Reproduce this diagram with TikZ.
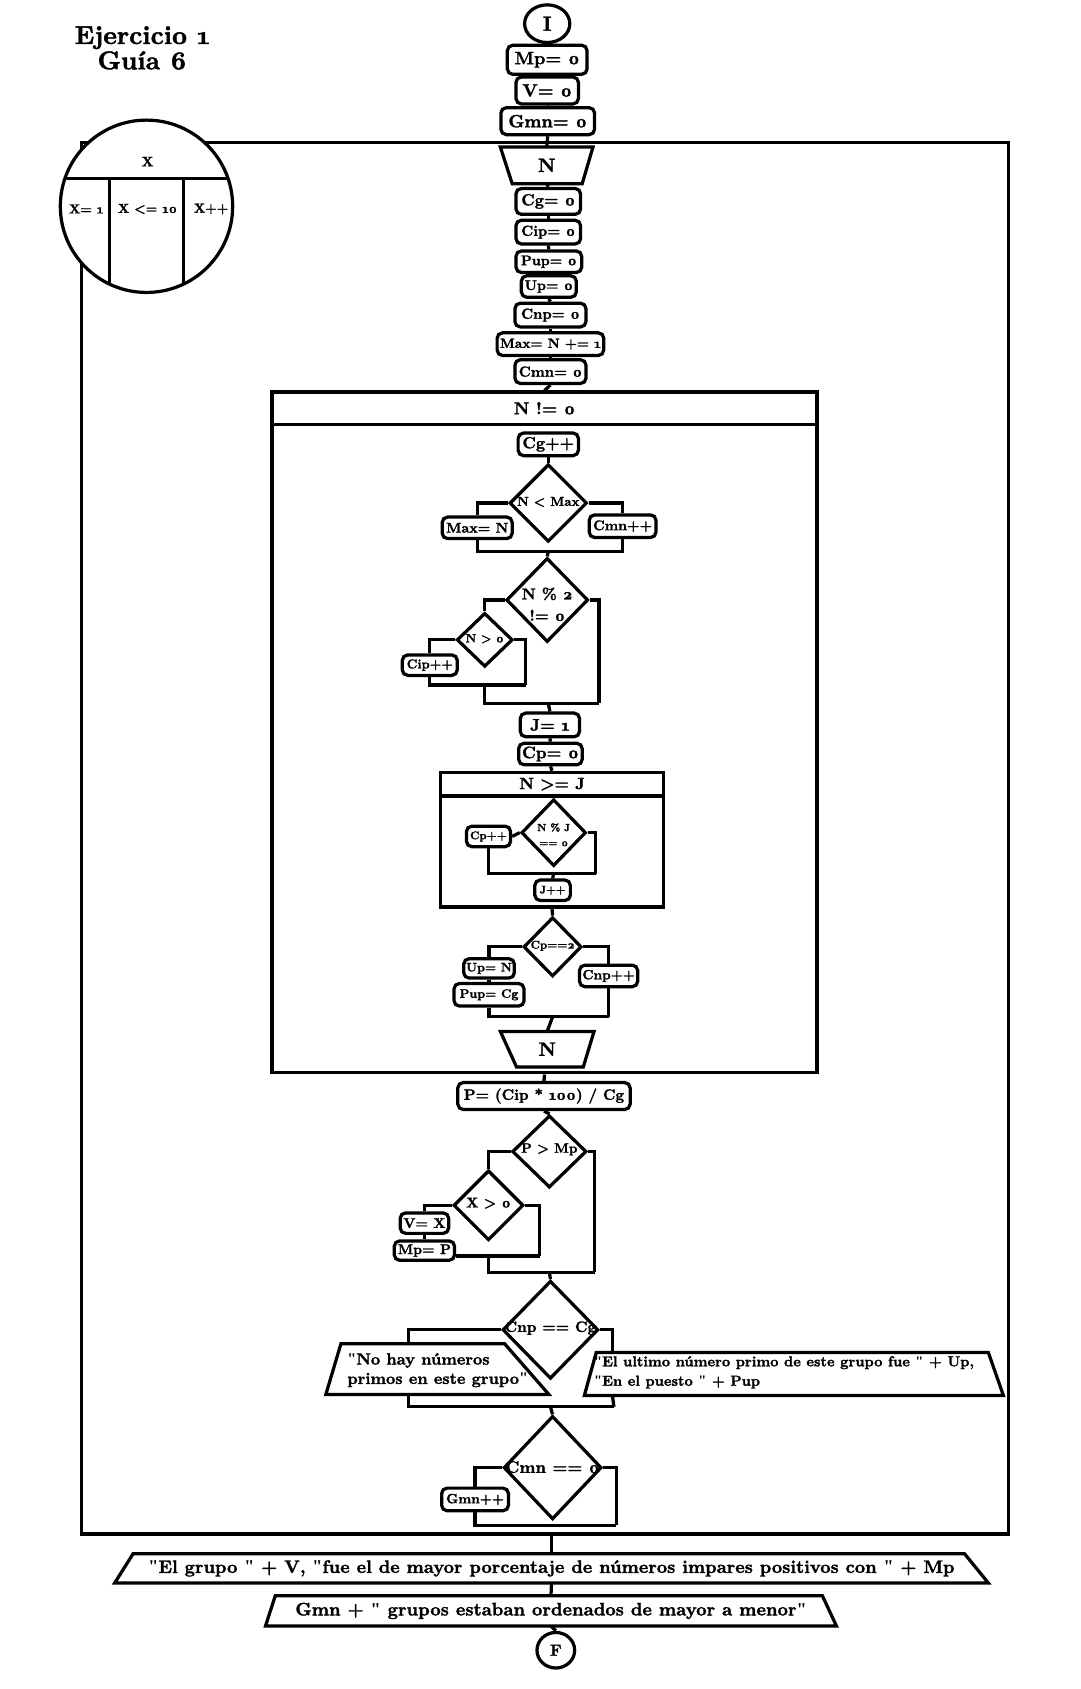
\documentclass[tikz,border=0pt]{standalone}
\usepackage{fontspec}
\setmainfont{lmroman10-bold.otf}[Numbers=OldStyle, RawFeature={embolden=1.6}]
\newfontfamily\qf{Liberation Serif}[UprightFont={* Bold}]
\newcommand\dq{{\qf"}}
\usetikzlibrary{shapes.geometric,calc}
\newcommand\bfs[2]{\fontsize{#1}{#2}\selectfont}
\newcommand\quadshape[5]{\draw ($(#1.north west)+(#2,0)$) -- ($(#1.north east)+(-#3,0)$) -- ($(#1.south east)+(-#4,0)$) -- ($(#1.south west)+(#5,0)$) -- cycle;}
\tikzset{
  bx/.style={draw, rounded corners=5pt, inner sep=0pt, fill=white},
  dia/.style={draw, diamond, inner sep=0pt},
  hold/.style={inner sep=0pt},
  txt/.style={inner sep=0pt},
  frame/.style={draw, inner sep=0pt},
}
\begin{document}
\begin{tikzpicture}[x=1pt,y=-1pt,line width=3pt]
\useasboundingbox (0,0) rectangle (1003,1568);
\fill[white] (0,0) rectangle (1003,1568);

% title
\node[txt, font=\bfs{24}{26}] (t1) at (132,35) {Ejercicio 1};
\node[txt, font=\bfs{24}{26}] (t2) at (132,56) {Guía 6};

% outer for loop
\node[frame, minimum width=860, minimum height=1292] (forbox) at (506,778) {};
\node[draw, circle, fill=white, minimum size=160, inner sep=0pt] (forc) at (136,191.5) {};
\draw ($(forc.center)+(-76,-25.5)$) -- ($(forc.center)+(76,-25.5)$);
\draw ($(forc.center)+(-34.5,-25.5)$) -- ($(forc.center)+(-34.5,72)$);
\draw ($(forc.center)+(34,-25.5)$) -- ($(forc.center)+(34,72)$);
\node[txt, font=\bfs{12.5}{14}] (fx) at (137,150) {X};
\node[txt, font=\bfs{12}{14}] (fa) at (80,194) {X= 1};
\node[txt, font=\bfs{12}{14}] (fb) at (137,194) {X <= 10};
\node[txt, font=\bfs{12}{14}] (fc) at (196,194) {X++};

% top chain
\node[draw, ellipse, minimum width=42, minimum height=35, inner sep=0pt, font=\bfs{19}{20}] (st) at (508,22) {I};
\node[bx, minimum width=74, minimum height=27, font=\bfs{16.5}{18}] (mp0) at (508,55.5) {Mp= 0};
\node[bx, minimum width=58, minimum height=25, font=\bfs{16.5}{18}] (v0) at (508,84) {V= 0};
\node[bx, minimum width=87, minimum height=25, font=\bfs{16.5}{18}] (gmn0) at (508.5,112.5) {Gmn= 0};
\node[hold, minimum width=83, minimum height=31, font=\bfs{18}{19}] (n1) at (507.5,153.5) {N};
\quadshape{n1}{0}{0}{10}{11}
\node[bx, minimum width=60, minimum height=24, font=\bfs{15}{16}] (cg0) at (509,187) {Cg= 0};
\node[bx, minimum width=60, minimum height=22, font=\bfs{13.5}{15}] (cip0) at (509,215.5) {Cip= 0};
\node[bx, minimum width=61, minimum height=20, font=\bfs{13}{15}] (pup0) at (509.5,243) {Pup= 0};
\node[bx, minimum width=51, minimum height=20, font=\bfs{13}{15}] (up0) at (509.5,266) {Up= 0};
\node[bx, minimum width=66, minimum height=22, font=\bfs{13.5}{15}] (cnp0) at (511,292.5) {Cnp= 0};
\node[bx, minimum width=99, minimum height=21, font=\bfs{12.5}{14}] (max0) at (511,319.5) {Max= N += 1};
\node[bx, minimum width=66, minimum height=22, font=\bfs{13.5}{15}] (cmn0) at (511,345) {Cmn= 0};
\draw (st.south) -- (mp0.north);
\draw (mp0.south) -- (v0.north);
\draw (v0.south) -- (gmn0.north);
\draw (gmn0.south) -- (n1.north);
\draw (n1.south) -- (cg0.north);
\draw (cg0.south) -- (cip0.north);
\draw (cip0.south) -- (pup0.north);
\draw (pup0.south) -- (up0.north);
\draw (up0.south) -- (cnp0.north);
\draw (cnp0.south) -- (max0.north);
\draw (max0.south) -- (cmn0.north);

% while N != 0
\node[frame, minimum width=506, minimum height=632] (w1) at (505.5,680) {};
\node[frame, minimum width=506, minimum height=30, anchor=north, font=\bfs{16}{18}] (w1h) at (w1.north) {N != 0};
\draw (cmn0.south) -- (w1h.north);

\node[bx, minimum width=56, minimum height=21, font=\bfs{15}{17}] (cgpp) at (509,412.5) {Cg++};
\node[dia, minimum width=72, minimum height=72] (d1) at (509,467) {};
\node[txt, font=\bfs{12}{14}] (d1t) at (509,466) {N < Max};
\node[bx, minimum width=65, minimum height=20, font=\bfs{13}{15}] (maxn) at (443,490) {Max= N};
\node[bx, minimum width=62, minimum height=21, font=\bfs{13}{15}] (cmnpp) at (578,488.5) {Cmn++};
\coordinate (m1) at (509,512);
\draw (cgpp.south) -- (d1.north);
\draw (d1.west) -| (maxn.north);
\draw (d1.east) -| (cmnpp.north);
\draw (maxn.south) |- (m1);
\draw (cmnpp.south) |- (m1);

\node[dia, minimum width=76, minimum height=78] (d2) at (508,557) {};
\node[txt, align=center, font=\bfs{14.5}{20}] (d2t) at (508,561) {N \% 2\\!= 0};
\draw (m1) -- (d2.north);
\node[dia, minimum width=52, minimum height=50] (d3) at (450,594) {};
\node[txt, font=\bfs{11}{13}] (d3t) at (450,593) {N > 0};
\node[bx, minimum width=51, minimum height=19, font=\bfs{12}{14}] (cippp) at (399,617.5) {Cip++};
\coordinate (m2) at (450,636);
\coordinate (m2r) at (488,636);
\coordinate (m3) at (509,653);
\coordinate (m3r) at (556,653);
\draw (d2.west) -| (d3.north);
\draw (d3.west) -| (cippp.north);
\draw (cippp.south) |- (m2r);
\draw (d3.east) -| (m2r);
\draw (m2) |- (m3r);
\draw (d2.east) -| (m3r);

\node[bx, minimum width=55, minimum height=22, font=\bfs{15.5}{17}] (j1) at (510.5,673) {J= 1};
\node[bx, minimum width=59, minimum height=20, font=\bfs{15.5}{17}] (cp0) at (511,700) {Cp= 0};
\draw (m3) -- (j1.north);
\draw (j1.south) -- (cp0.north);

% while N >= J
\node[frame, minimum width=207, minimum height=125] (w2) at (512.5,779.5) {};
\node[frame, minimum width=207, minimum height=22, anchor=north, font=\bfs{15}{16}] (w2h) at (w2.north) {N >= J};
\draw (cp0.south) -- (w2h.north);
\node[dia, minimum width=60, minimum height=62] (d4) at (514,773) {};
\node[txt, align=center, font=\bfs{9.5}{14}] (d4t) at (514,775) {N \% J\\== 0};
\node[bx, minimum width=41, minimum height=19, font=\bfs{10.5}{12}] (cpp) at (453.5,776.5) {Cp++};
\node[bx, minimum width=33, minimum height=19, font=\bfs{10}{12}] (jpp) at (513,826.5) {J++};
\coordinate (m4) at (514,811);
\coordinate (m4r) at (553,811);
\draw (d4.west) -- (cpp.east);
\draw (cpp.south) |- (m4r);
\draw (d4.east) -| (m4r);
\draw (m4) -- (jpp.north);

\node[dia, minimum width=54, minimum height=55] (d5) at (513,879) {};
\node[txt, font=\bfs{10.5}{12}] (d5t) at (513,878) {Cp==2};
\draw (w2.south) -- (d5.north);
\node[bx, minimum width=47, minimum height=18, font=\bfs{11.5}{13}] (upn) at (454,899) {Up= N};
\node[bx, minimum width=65, minimum height=21, font=\bfs{11.5}{13}] (puc) at (454,923.5) {Pup= Cg};
\node[bx, minimum width=54, minimum height=20, font=\bfs{12.5}{14}] (cnppp) at (565,906) {Cnp++};
\coordinate (m5) at (513,944);
\coordinate (m5r) at (565,944);
\draw (d5.west) -| (upn.north);
\draw (upn.south) -- (puc.north);
\draw (puc.south) |- (m5r);
\draw (d5.east) -| (cnppp.north);
\draw (cnppp.south) -- (m5r);

\node[hold, minimum width=84, minimum height=30, font=\bfs{18}{19}] (n2) at (508,974) {N};
\quadshape{n2}{0}{0}{10}{15}
\draw (m5) -- (n2.north);

% after inner while
\node[bx, minimum width=160, minimum height=25, font=\bfs{14}{16}] (pbox) at (505,1017.5) {P= (Cip * 100) / Cg};
\draw (w1.south) -- (pbox.north);
\node[dia, minimum width=69, minimum height=67] (d6) at (510,1069) {};
\node[txt, font=\bfs{12.5}{14}] (d6t) at (510,1067) {P > Mp};
\draw (pbox.south) -- (d6.north);
\node[dia, minimum width=65, minimum height=65] (d7) at (453.5,1119) {};
\node[txt, font=\bfs{13}{15}] (d7t) at (453.5,1117) {X > 0};
\node[bx, minimum width=45, minimum height=19, font=\bfs{13}{15}] (vx) at (394,1135.5) {V= X};
\node[bx, minimum width=56, minimum height=18, font=\bfs{13}{15}] (mpp) at (394,1161) {Mp= P};
\coordinate (m6) at (453.5,1166);
\coordinate (m6r) at (501,1166);
\coordinate (m7) at (510,1181);
\coordinate (m7r) at (552,1181);
\draw (d6.west) -| (d7.north);
\draw (d7.west) -| (vx.north);
\draw (vx.south) -- (mpp.north);
\draw (mpp.east |- m6r) -- (m6r);
\draw (d7.east) -| (m6r);
\draw (m6) |- (m7r);
\draw (d6.east) -| (m7r);

\node[dia, minimum width=89, minimum height=91] (d8) at (511,1234.5) {};
\node[txt, font=\bfs{14}{16}] (d8t) at (511,1233) {Cnp == Cg};
\draw (m7) -- (d8.north);
\node[hold, minimum width=204, minimum height=44] (noh) at (406,1271) {};
\quadshape{noh}{14}{41}{0}{0}
\node[txt, anchor=west, align=left, font=\bfs{15}{18}] (noht) at (321,1272) {\dq{}No hay números\\primos en este grupo\dq};
\node[hold, minimum width=386, minimum height=37] (elt) at (737,1275.5) {};
\quadshape{elt}{11}{14}{0}{0}
\node[txt, anchor=west, align=left, font=\bfs{13.4}{18}] (eltt) at (550,1274) {\dq{}El ultimo número primo de este grupo fue \dq{} + Up,\\\dq{}En el puesto \dq{} + Pup};
\coordinate (nohin) at ($(noh.north west)+(77,0)$);
\coordinate (nohout) at ($(noh.south west)+(77,0)$);
\coordinate (eltin) at ($(elt.north west)+(26,0)$);
\coordinate (eltout) at ($(elt.south west)+(26,0)$);
\coordinate (m8) at (511,1306);
\coordinate (m8r) at (570,1306);
\draw (d8.west) -| (nohin);
\draw (d8.east) -| (eltin);
\draw (nohout) |- (m8r);
\draw (eltout) -- (m8r);

\node[dia, minimum width=91, minimum height=96] (d9) at (513,1362.5) {};
\node[txt, font=\bfs{15.5}{18}] (d9t) at (513,1362) {Cmn == 0};
\draw (m8) -- (d9.north);
\node[bx, minimum width=62, minimum height=21, font=\bfs{12.5}{14}] (gpp) at (441,1392) {Gmn++};
\coordinate (m9r) at (572,1416);
\draw (d9.west) -| (gpp.north);
\draw (gpp.south) |- (m9r);
\draw (d9.east) -| (m9r);

% final outputs
\node[hold, minimum width=808, minimum height=24, font=\bfs{16.7}{18}] (out1) at (512,1456) {\dq{}El grupo \dq{} + V, \dq{}fue el de mayor porcentaje de números impares positivos con \dq{} + Mp};
\quadshape{out1}{17}{22}{0}{0}
\draw (out1.north |- forbox.south) -- (out1.north);
\node[hold, minimum width=527, minimum height=25, font=\bfs{16.8}{18}] (out2) at (511.5,1495.5) {Gmn + \dq{} grupos estaban ordenados de mayor a menor\dq};
\quadshape{out2}{9}{13}{0}{0}
\draw (out1.south) -- (out2.north);
\node[draw, ellipse, minimum width=35, minimum height=33, inner sep=0pt, font=\bfs{15}{17}] (fin) at (516,1532) {F};
\draw (out2.south) -- (fin.north);
\end{tikzpicture}
\end{document}
